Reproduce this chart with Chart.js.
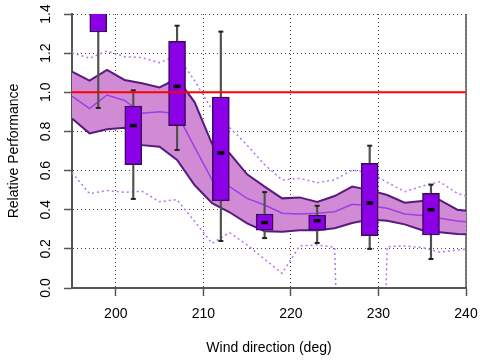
<!DOCTYPE html>
<html>
<head>
<meta charset="utf-8">
<script src="https://cdn.jsdelivr.net/npm/chart.js@4.4.1/dist/chart.umd.min.js"></script>
<style>
  body { margin: 0; background: #fff; }
  #chart { display: block; }
</style>
</head>
<body>
<canvas id="chart" width="480" height="360"></canvas>
<script>
// Band series sampled every 2 deg
const bandX = [195, 197, 199, 201, 203, 205, 207, 209, 211, 213, 215, 217, 219, 221, 223, 225, 227, 229, 231, 233, 235, 237, 239, 240];
const bandUpper = [1.105, 1.06, 1.114, 1.063, 1.046, 1.025, 1.07, 0.95, 0.735, 0.688, 0.581, 0.518, 0.458, 0.463, 0.44, 0.47, 0.518, 0.50, 0.475, 0.436, 0.445, 0.45, 0.40, 0.395];
const bandLower = [0.866, 0.79, 0.811, 0.819, 0.73, 0.722, 0.654, 0.526, 0.433, 0.387, 0.33, 0.29, 0.288, 0.295, 0.295, 0.305, 0.332, 0.35, 0.344, 0.325, 0.295, 0.285, 0.276, 0.274];
const bandMid = [0.98, 0.917, 0.986, 0.958, 0.893, 0.90, 0.89, 0.72, 0.552, 0.518, 0.458, 0.424, 0.382, 0.378, 0.382, 0.39, 0.428, 0.42, 0.407, 0.378, 0.37, 0.356, 0.342, 0.339];
const outerUpper = [1.202, 1.174, 1.211, 1.182, 1.177, 1.151, 1.188, 1.06, 0.91, 0.82, 0.73, 0.63, 0.552, 0.56, 0.538, 0.553, 0.602, 0.59, 0.54, 0.492, 0.521, 0.543, 0.484, 0.47];
const outerLower = [0.59, 0.482, 0.498, 0.489, 0.494, 0.441, 0.452, 0.34, 0.228, 0.283, 0.22, 0.147, 0.075, 0.215, 0.22, 0.208, -3, -3, 0.211, 0.215, 0.207, 0.183, 0.194, 0.198];

// Boxplots
const boxX = [198, 202, 207, 212, 217, 223, 229, 236];
const whiskerLow = [0.92, 0.455, 0.705, 0.24, 0.255, 0.23, 0.2, 0.148];
const boxQ1 = [1.308, 0.63, 0.83, 0.445, 0.296, 0.296, 0.267, 0.271];
const boxMedian = [1.5, 0.83, 1.03, 0.69, 0.334, 0.344, 0.434, 0.40];
const boxQ3 = [1.65, 0.93, 1.26, 0.976, 0.378, 0.372, 0.637, 0.484];
const whiskerHigh = [1.8, 1.01, 1.34, 1.31, 0.49, 0.42, 0.727, 0.528];

const refLevel = 1.0;
const xTicks = [200, 210, 220, 230, 240];
const yTicks = [0, 0.2, 0.4, 0.6, 0.8, 1.0, 1.2, 1.4];

const FONT = '"Liberation Sans", Arial, Helvetica, sans-serif';
Chart.defaults.font.family = FONT;
Chart.defaults.font.size = 14;
Chart.defaults.color = '#000';

function pts(xs, ys) {
    return xs.map((x, i) => ({ x: x, y: ys[i] }));
}

function lineSet(data, color, width, dash, order) {
    return {
        type: 'line', data: data, borderColor: color, borderWidth: width,
        borderDash: dash, pointRadius: 0, fill: false, tension: 0, order: order
    };
}

const whiskerCaps = boxX.map((x, i) => ({ x: x, y: whiskerLow[i] }))
    .concat(boxX.map((x, i) => ({ x: x, y: whiskerHigh[i] })));

// Y labels are drawn rotated like R's default
const sidePlugin = {
    id: 'sidePlugin',
    beforeDatasetsDraw(chart) {
        const a = chart.chartArea;
        const ctx = chart.ctx;
        ctx.save();
        ctx.strokeStyle = '#555';
        ctx.lineWidth = 1.5;
        ctx.beginPath();
        ctx.moveTo(a.right, a.top);
        ctx.lineTo(a.right, a.bottom);
        ctx.stroke();
        ctx.restore();
    },
    afterDraw(chart) {
        const scale = chart.scales.y;
        const ctx = chart.ctx;
        ctx.save();
        ctx.fillStyle = '#000';
        ctx.font = '14px ' + FONT;
        ctx.textAlign = 'center';
        ctx.textBaseline = 'middle';
        scale.ticks.forEach(t => {
            const y = scale.getPixelForValue(t.value);
            ctx.save();
            ctx.translate(46, y);
            ctx.rotate(-Math.PI / 2);
            ctx.fillText(t.value.toFixed(1), 0, 0);
            ctx.restore();
        });
        ctx.restore();
    }
};

new Chart(document.getElementById('chart'), {
    type: 'bar',
    data: {
        datasets: [
            lineSet([{ x: 195, y: refLevel }, { x: 240, y: refLevel }], '#ff0000', 2, [], 0),
            {
                type: 'scatter', data: pts(boxX, boxMedian), pointStyle: 'line',
                pointRadius: 3.5, borderColor: '#000', borderWidth: 3.5, order: 1
            },
            {
                type: 'scatter', data: whiskerCaps, pointStyle: 'line',
                pointRadius: 2.5, borderColor: '#222', borderWidth: 2, order: 2
            },
            {
                type: 'bar', data: boxX.map((x, i) => ({ x: x, y: [boxQ1[i], boxQ3[i]] })),
                backgroundColor: '#8c00e8', borderColor: '#3c0a5c', borderWidth: 1.5,
                borderSkipped: false, barThickness: 17, grouped: false, order: 3
            },
            {
                type: 'bar', data: boxX.map((x, i) => ({ x: x, y: [whiskerLow[i], whiskerHigh[i]] })),
                backgroundColor: '#505050', barThickness: 1.5, grouped: false, order: 4
            },
            lineSet(pts(bandX, outerUpper), '#b574f2', 1.5, [2, 3], 5),
            lineSet(pts(bandX, outerLower), '#b574f2', 1.5, [2, 3], 5),
            lineSet(pts(bandX, bandMid), '#a23ce8', 1.5, [], 6),
            lineSet(pts(bandX, bandLower), '#561a80', 2, [], 7),
            Object.assign(lineSet(pts(bandX, bandUpper), '#561a80', 2, [], 8), {
                fill: { target: 8 }, backgroundColor: '#d08bd4'
            })
        ]
    },
    options: {
        responsive: false,
        animation: false,
        layout: { padding: { top: 14, right: 14, left: 0, bottom: 0 } },
        plugins: { legend: { display: false }, tooltip: { enabled: false } },
        scales: {
            x: {
                type: 'linear', min: 195, max: 240, offset: false,
                afterBuildTicks: s => { s.ticks = xTicks.map(v => ({ value: v })); },
                afterFit: s => { s.height = 72; s.paddingLeft = 0; s.paddingRight = 0; },
                ticks: { padding: 10, font: { size: 14 }, color: '#000' },
                grid: {
                    offset: false,
                    color: '#444', lineWidth: 1, tickLength: 8, tickColor: '#555',
                    tickWidth: 1.5, tickBorderDash: []
                },
                border: { display: true, color: '#555', width: 2, dash: [1, 3] },
                title: { display: true, text: 'Wind direction (deg)', font: { size: 14 }, color: '#000', padding: { top: 0, bottom: 3 } }
            },
            y: {
                min: 0, max: 1.4,
                afterBuildTicks: s => { s.ticks = yTicks.map(v => ({ value: v })); },
                afterFit: s => { s.width = 72; s.paddingTop = 0; s.paddingBottom = 0; },
                ticks: { display: false },
                grid: {
                    color: '#444', lineWidth: 1, tickLength: 8, tickColor: '#555',
                    tickWidth: 1.5, tickBorderDash: []
                },
                border: { display: true, color: '#555', width: 2, dash: [1, 3] },
                title: { display: true, text: 'Relative Performance', font: { size: 14 }, color: '#000', padding: { top: 6, bottom: 0 } }
            }
        }
    },
    plugins: [sidePlugin]
});
</script>
</body>
</html>
